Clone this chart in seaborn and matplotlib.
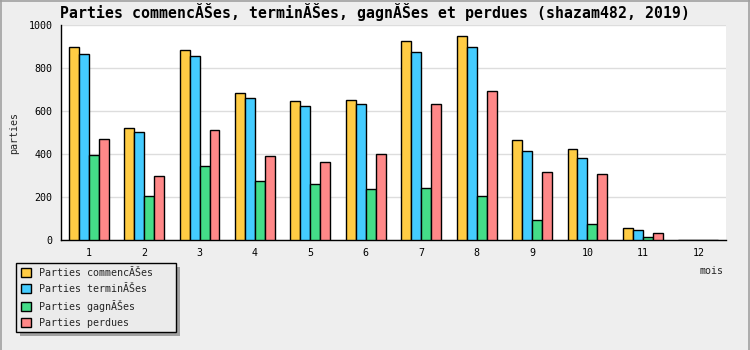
import matplotlib
matplotlib.use("Agg")
import matplotlib.pyplot as plt
from matplotlib.lines import Line2D
from matplotlib.patches import Rectangle
from matplotlib.ticker import MultipleLocator, FixedLocator
import seaborn as sns
import pandas as pd

months = ["1", "2", "3", "4", "5", "6", "7", "8", "9", "10", "11", "12"]
commencees = [896, 519, 882, 684, 646, 650, 924, 949, 464, 423, 56, 0]
terminees = [863, 501, 856, 659, 622, 631, 873, 896, 412, 381, 45, 0]
gagnees = [395, 203, 344, 273, 259, 236, 240, 203, 93, 74, 14, 0]
perdues = [469, 298, 511, 391, 361, 398, 631, 693, 315, 307, 33, 0]
series_names = ["Parties commencĂŠes", "Parties terminĂŠes", "Parties gagnĂŠes", "Parties perdues"]
colors = ["#FFCC44", "#44CCFF", "#44DD88", "#FF8888"]
title = "Parties commencĂŠes, terminĂŠes, gagnĂŠes et perdues (shazam482, 2019)"

rows = []
for name, vals in zip(series_names, [commencees, terminees, gagnees, perdues]):
    for m, v in zip(months, vals):
        rows.append({"mois": m, "parties": v, "serie": name})
df = pd.DataFrame(rows)

sns.set_theme(style="white")
plt.rcParams["font.family"] = ["DejaVu Sans Mono"]

W, H = 750, 350
fig = plt.figure(figsize=(7.5, 3.5), dpi=100)
fig.patch.set_facecolor("#EEEEEE")
ax = fig.add_axes([61 / W, 1 - 240 / H, (726 - 61) / W, (240 - 25) / H])
ax.set_facecolor("white")

sns.barplot(data=df, x="mois", y="parties", hue="serie", order=months,
            hue_order=series_names, palette=colors, width=0.72, gap=0,
            edgecolor="black", linewidth=1, saturation=1, ax=ax, legend=False,
            zorder=3)

ax.set_ylim(0, 1000)
ax.set_xlim(-0.5, 11.5)
ax.yaxis.set_major_locator(MultipleLocator(200))
ax.yaxis.set_minor_locator(MultipleLocator(100))
ax.xaxis.set_minor_locator(FixedLocator([i + 0.5 for i in range(12)]))
ax.grid(axis="y", which="major", color="#DDDDDD", linewidth=1, zorder=0)
ax.set_axisbelow(True)
for s in ["top", "right"]:
    ax.spines[s].set_visible(False)
for s in ["left", "bottom"]:
    ax.spines[s].set_color("black")
    ax.spines[s].set_linewidth(1)
ax.tick_params(axis="x", which="major", length=0, labelsize=7.2, pad=6, colors="black")
ax.tick_params(axis="x", which="minor", direction="in", length=5, width=1, color="black")
ax.tick_params(axis="y", which="major", direction="inout", length=8, width=1,
               labelsize=7.2, pad=2, colors="black")
ax.tick_params(axis="y", which="minor", direction="in", length=4, width=1, color="black")
ax.set_xlabel("")
ax.set_ylabel("")

fig.text(60 / W, 1 - 12 / H, title, fontsize=10.75, fontweight="bold",
         ha="left", va="center", color="black")
fig.text(14 / W, 1 - 133 / H, "parties", rotation=90, fontsize=7.2,
         ha="center", va="center")
fig.text(712 / W, 1 - 271 / H, "mois", fontsize=7.2, ha="center", va="center")

# legend box: x 16-176, y 263-332 (pixels)
lx0, lx1, ly0, ly1 = 16, 176, 263, 332
shadow = Rectangle(((lx0 + 4) / W, 1 - (ly1 + 4) / H), (lx1 - lx0) / W, (ly1 - ly0) / H,
                   transform=fig.transFigure, facecolor="#A0A0A0", edgecolor="none",
                   zorder=4)
fig.add_artist(shadow)

handles = [plt.Rectangle((0, 0), 1, 1, facecolor=c, edgecolor="black", linewidth=1)
           for c in colors]
leg = fig.legend(handles, series_names, loc="upper left",
                 bbox_to_anchor=(lx0 / W, 1 - ly1 / H, (lx1 - lx0) / W, (ly1 - ly0) / H),
                 mode="expand", borderaxespad=0,
                 fontsize=7.2, frameon=True, fancybox=False, shadow=False,
                 handlelength=1.0, handleheight=1.0, handletextpad=0.85,
                 labelspacing=0.6, borderpad=0.45, framealpha=1)
leg.set_zorder(5)
leg.get_frame().set_edgecolor("black")
leg.get_frame().set_linewidth(1)
leg.get_frame().set_facecolor("#EBEBEB")

# figure border
for xs, ys in [([0.0007, 0.0007], [0, 1]), ([0, 1], [0.9985, 0.9985]), ([0.9993, 0.9993], [0, 1])]:
    fig.add_artist(Line2D(xs, ys, transform=fig.transFigure, color="#A0A0A0", linewidth=1.2))

fig.savefig("out.png", dpi=100, facecolor=fig.get_facecolor())
